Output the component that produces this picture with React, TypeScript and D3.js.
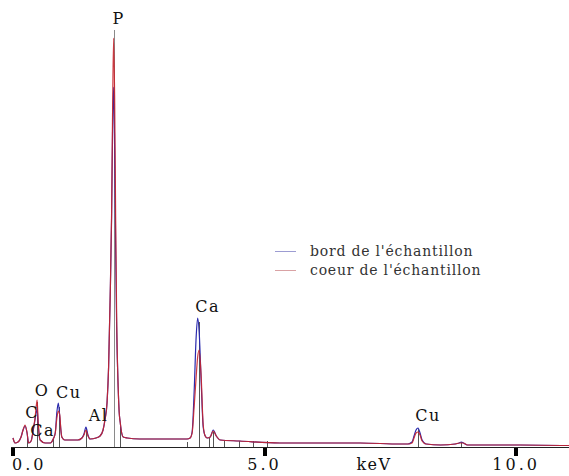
import React from 'react';
import * as d3 from 'd3';

// energy axis (keV) shared by both spectra
const energy = [
  0.0, 0.04, 0.1, 0.16, 0.2, 0.24, 0.28, 0.31, 0.36, 0.4, 0.44, 0.46, 0.48, 0.5, 0.52, 0.54,
  0.64, 0.74, 0.8, 0.84, 0.87, 0.9, 0.93, 0.95, 0.97, 1.03, 1.17, 1.29, 1.37, 1.41, 1.45,
  1.49, 1.53, 1.65, 1.73, 1.79, 1.83, 1.87, 1.9, 1.93, 1.96, 1.98, 2.0, 2.02, 2.04, 2.06,
  2.09, 2.11, 2.13, 2.16, 2.19, 2.27, 2.52, 2.92, 3.32, 3.46, 3.52, 3.56, 3.6, 3.64, 3.67,
  3.7, 3.74, 3.78, 3.82, 3.86, 3.92, 3.98, 4.04, 4.12, 4.5, 5.3, 6.1, 6.9, 7.7, 7.85, 7.93,
  7.97, 8.01, 8.05, 8.09, 8.13, 8.21, 8.5, 8.79, 8.87, 8.91, 8.95, 9.03, 9.5, 10.08, 11.05,
];

// bord de l'échantillon (blue)
const bord = [
  9, 4, 5, 10, 17, 21, 14, 4, 6, 16, 28, 34, 38, 24, 12, 7,
  4, 4, 8, 14, 34, 44, 30, 18, 10, 7, 7, 7, 9, 13, 20,
  12, 8, 9, 11, 17, 28, 45, 80, 147, 230, 320, 360, 300, 200, 120,
  60, 35, 25, 14, 10, 9, 8, 8, 8, 8, 9, 15, 55, 110, 129,
  115, 65, 20, 11, 9, 10, 17, 11, 7, 6, 4, 4, 4, 3, 3, 5,
  11, 17, 19, 14, 7, 3, 2, 3, 4, 5, 4, 2, 2, 2, 1.5,
];

// coeur de l'échantillon (red)
const coeur = [
  9, 4, 5, 10, 17, 22, 14, 4, 6, 17, 30, 40, 47, 25, 12, 7,
  4, 4, 8, 14, 28, 36, 32, 18, 10, 7, 7, 7, 9, 12, 17,
  11, 8, 9, 11, 17, 28, 45, 80, 147, 235, 340, 409, 350, 230, 130,
  60, 35, 25, 14, 10, 9, 8, 8, 8, 8, 9, 14, 40, 70, 90,
  97, 70, 22, 11, 9, 10, 16, 11, 7, 6, 4, 4, 4, 3, 3, 4,
  9, 14, 15, 12, 6, 3, 2, 3, 4, 4, 4, 2, 2, 2, 1.5,
];

// element marker lines: energy (keV) and height (counts)
const markerEnergy = [0.28, 0.48, 0.8, 0.92, 1.45, 2.0, 2.12, 3.46, 3.69, 3.9, 3.98, 4.19, 4.49, 4.77, 5.05, 8.05, 8.9];
const markerHeight = [10, 45, 8, 40, 18, 417, 20, 5, 125, 10, 15, 6, 6, 6, 6, 18, 5];

// peak labels
const peakNames = ['P', 'Ca', 'Cu', 'Al', 'O', 'Cu', 'C', 'Ca'];
const peakEnergy = [2.1, 3.87, 8.25, 1.7, 0.58, 1.11, 0.38, 0.59];
const peakLevel = [423, 135, 26, 26, 51, 49, 29, 11];

const tickValues = [0, 5, 10];
const tickLabels = ['0.0', '5.0', '10.0'];

const seriesNames = ["bord de l'échantillon", "coeur de l'échantillon"];
const seriesColors = ['#2a2aae', '#c8232c'];
const legendColors = ['#9c9cd2', '#d9a2a4'];

export default function App() {
  const width = 569;
  const height = 476;
  const axisY = 447;

  const x = d3.scaleLinear().domain([0, 11.05]).range([13, 569]);
  const y = d3.scaleLinear().domain([0, 420]).range([axisY, 27]);

  const line = d3
    .line<number>()
    .x((_, i) => x(energy[i]))
    .y((d) => y(d))
    .curve(d3.curveMonotoneX);

  // no Courier on the box: a slab serif with wide spacing stands in for it
  const labelFont = "'DejaVu Serif', serif";

  return (
    <svg
      width={width}
      height={height}
      style={{ position: 'absolute', left: 0, top: 0, background: '#fff' }}
    >
      {/* element marker lines */}
      {markerEnergy.map((e, i) => (
        <line
          key={'m' + i}
          x1={Math.round(x(e)) + 0.5}
          x2={Math.round(x(e)) + 0.5}
          y1={axisY}
          y2={y(markerHeight[i])}
          stroke={i === 5 ? '#8a8a8a' : '#555'}
          strokeWidth={1}
        />
      ))}

      {/* spectra */}
      <path d={line(bord) ?? ''} fill="none" stroke={seriesColors[0]} strokeWidth={1.2} />
      <path d={line(coeur) ?? ''} fill="none" stroke={seriesColors[1]} strokeWidth={1.2} opacity={0.9} />

      {/* x axis */}
      <line x1={11} x2={569} y1={axisY + 0.5} y2={axisY + 0.5} stroke="#222" strokeWidth={1} />
      {tickValues.map((t, i) => (
        <g key={'t' + i}>
          <rect x={Math.round(x(t)) - 2} y={axisY + 1} width={4} height={8} fill="#000" />
          <text
            x={i === 0 ? 12 : x(t)}
            y={470}
            textAnchor={i === 0 ? 'start' : 'middle'}
            fontFamily={labelFont}
            fontSize={16}
            letterSpacing={3}
            fill="#111"
          >
            {tickLabels[i]}
          </text>
        </g>
      ))}
      <text x={374} y={470} textAnchor="middle" fontFamily={labelFont} fontSize={16} letterSpacing={1.5} fill="#111">
        keV
      </text>

      {/* peak labels */}
      {peakNames.map((n, i) => (
        <text
          key={'p' + i}
          x={x(peakEnergy[i])}
          y={y(peakLevel[i])}
          textAnchor="middle"
          fontFamily={labelFont}
          fontSize={16}
          letterSpacing={1.5}
          fill="#111"
        >
          {n}
        </text>
      ))}

      {/* legend */}
      {seriesNames.map((s, i) => (
        <g key={'l' + i} transform={`translate(275, ${251 + i * 19})`}>
          <line x1={0} x2={21} y1={0.5} y2={0.5} stroke={legendColors[i]} strokeWidth={1} />
          <text
            x={35}
            y={5}
            fontFamily="'DejaVu Serif', serif"
            fontSize={14}
            letterSpacing={0.8}
            fill="#333"
          >
            {s}
          </text>
        </g>
      ))}
    </svg>
  );
}
